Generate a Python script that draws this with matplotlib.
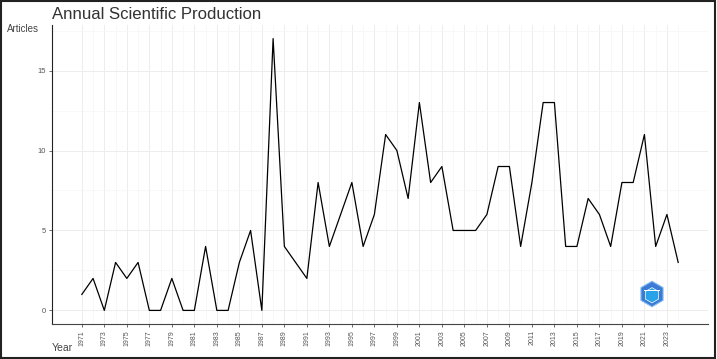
import numpy as np
from matplotlib import pyplot as plt
from matplotlib.patches import RegularPolygon, Rectangle

plt.rcParams['font.family'] = ['Liberation Sans', 'DejaVu Sans']

# Annual article counts
years = list(range(1971, 2025))
articles = [1, 2, 0, 3, 2, 3, 0, 0, 2, 0,
            0, 4, 0, 0, 3, 5, 0, 17, 4, 3,
            2, 8, 4, 6, 8, 4, 6, 11, 10, 7,
            13, 8, 9, 5, 5, 5, 6, 9, 9, 4,
            8, 13, 13, 4, 4, 7, 6, 4, 8, 8,
            11, 4, 6, 3]
tick_years = list(range(1971, 2024, 2))
y_ticks = [0, 5, 10, 15]

fig = plt.figure(figsize=(7.17, 3.59), dpi=100)
ax = fig.add_axes([52 / 717, 35 / 359, 656 / 717, 299 / 359])

ax.plot(years, articles, color="black", linewidth=0.9)

ax.set_xlim(1968.35, 2026.65)
ax.set_ylim(-0.85, 17.85)

ax.set_xticks(tick_years)
ax.set_xticklabels([str(y) for y in tick_years], rotation=90, fontsize=5, color="#555555")
ax.set_xticks(years, minor=True)
ax.set_yticks(y_ticks)
ax.set_yticklabels([str(v) for v in y_ticks], fontsize=5.5, color="#555555")
ax.set_yticks([2.5, 7.5, 12.5, 17.5], minor=True)

ax.tick_params(axis="both", which="major", length=2.5, width=0.6, color="#555555", pad=2)
ax.tick_params(axis="both", which="minor", length=0)
ax.grid(which="major", color="#EDEDED", linewidth=0.7)
ax.grid(which="minor", color="#F5F5F5", linewidth=0.5)
ax.set_axisbelow(True)

for side in ["top", "right"]:
    ax.spines[side].set_visible(False)
ax.spines["left"].set_color("#222222")
ax.spines["bottom"].set_color("#444444")
ax.spines["left"].set_linewidth(0.8)
ax.spines["bottom"].set_linewidth(0.8)

fig.text(52 / 717, 1 - 19 / 359, "Annual Scientific Production", fontsize=12.1,
         color="#333333", va="baseline", ha="left")
fig.text(7 / 717, 1 - 29 / 359, "Articles", fontsize=7, color="#444444", va="center", ha="left")
fig.text(52 / 717, 1 - 348 / 359, "Year", fontsize=7.5, color="#444444", va="center", ha="left")

# small hexagon logo
lax = fig.add_axes([638 / 717, 50 / 359, 28 / 717, 30 / 359])
lax.set_xlim(-1.1, 1.1)
lax.set_ylim(-1.1, 1.1)
lax.set_aspect("equal")
lax.axis("off")
lax.add_patch(RegularPolygon((0, 0), 6, radius=1.0, facecolor="#3a7bd5", edgecolor="#7fb8f0", linewidth=0.8))
lax.add_patch(RegularPolygon((0, -0.1), 6, radius=0.6, facecolor="#29a3e8", edgecolor="white", linewidth=0.5))
lax.add_patch(Rectangle((-0.6, 0.25), 1.2, 0.08, facecolor="white", edgecolor="none"))

# dark frame around the image
fig.add_artist(Rectangle((0.002, 0.003), 0.995, 0.994, transform=fig.transFigure,
                         fill=False, edgecolor="#222222", linewidth=1.5))

fig.savefig("out.png", dpi=100)
